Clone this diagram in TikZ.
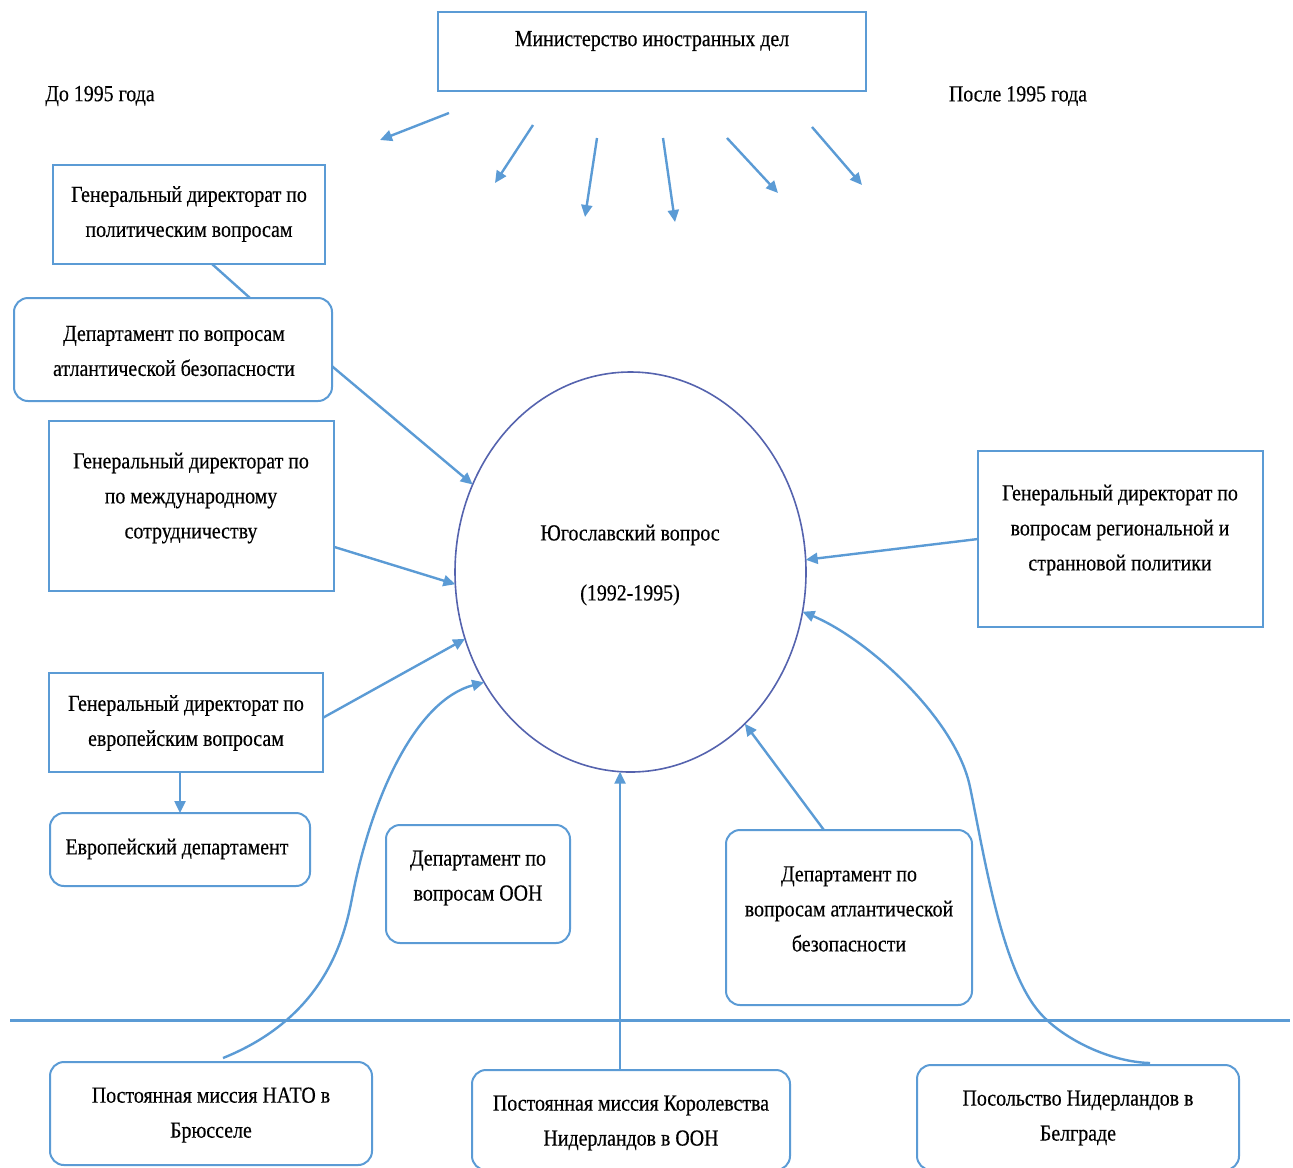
\documentclass[tikz,border=0pt]{standalone}
\usepackage{fontspec}
\setmainfont{Liberation Serif}[FakeStretch=0.865,FakeBold=0.4]
\usetikzlibrary{arrows.meta,shapes.geometric,calc}
\definecolor{bcol}{HTML}{5B9BD5}
\definecolor{ccol}{HTML}{5563AE}
\begin{document}
\begin{tikzpicture}[x=0.5pt,y=-0.5pt,
  box/.style={draw=bcol,line width=1pt,rectangle,inner sep=0pt,outer sep=0pt},
  rbox/.style={box,rounded corners=7pt},
  txt/.style={align=center,inner sep=0pt,font=\fontsize{11.5}{17.5}\selectfont},
  arr/.style={draw=bcol,line width=1.2pt,-{Triangle[length=6pt,width=5.5pt]}},
  ln/.style={draw=bcol,line width=1.2pt}]
\useasboundingbox (0,0) rectangle (1293,1167);
% boxes
\node[box,minimum width=214pt,minimum height=39.5pt] (min) at (652,51.5) {};
\node[box,minimum width=136pt,minimum height=49.5pt] (gdp) at (189,214.5) {};
\node[rbox,minimum width=159pt,minimum height=51.5pt] (atl) at (173,349.5) {};
\node[box,minimum width=142.5pt,minimum height=85pt] (gdi) at (191.5,506) {};
\node[box,minimum width=137pt,minimum height=49.5pt] (gde) at (186,722.5) {};
\node[rbox,minimum width=130pt,minimum height=36.5pt] (eud) at (180,849.5) {};
\node[rbox,minimum width=92pt,minimum height=59pt] (und) at (478,884) {};
\node[rbox,minimum width=123pt,minimum height=87.5pt] (atl2) at (849,917.5) {};
\node[box,minimum width=142.5pt,minimum height=88pt] (reg) at (1120.5,539) {};
\node[rbox,minimum width=161pt,minimum height=51.5pt] (nato) at (211,1113.5) {};
\node[rbox,minimum width=159pt,minimum height=50pt] (unm) at (631,1120) {};
\node[rbox,minimum width=161pt,minimum height=52.5pt] (bel) at (1078,1117.5) {};
\node[ellipse,draw=ccol,line width=0.8pt,minimum width=175.5pt,minimum height=200pt,inner sep=0pt,outer sep=0pt] (circ) at (630.5,572) {};
% texts
\node[txt] (tmin) at (652,41) {Министерство иностранных дел};
\node[txt] (tbefore) at (100,96) {До 1995 года};
\node[txt] (tafter) at (1018,96) {После 1995 года};
\node[txt] (tgdp) at (189,214) {Генеральный директорат по\\политическим вопросам};
\node[txt] (tatl) at (174,351) {Департамент по вопросам\\атлантической безопасности};
\node[txt] (tgdi) at (191,498) {Генеральный директорат по\\по международному\\сотрудничеству};
\node[txt] (tcirc) at (630,565) {Югославский вопрос\\[12.5pt](1992-1995)};
\node[txt] (tgde) at (186,723) {Генеральный директорат по\\европейским вопросам};
\node[txt] (teud) at (177,849) {Европейский департамент};
\node[txt] (tund) at (478,878) {Департамент по\\вопросам ООН};
\node[txt] (tatl2) at (849,909) {Департамент по\\вопросам атлантической\\безопасности};
\node[txt] (treg) at (1120,530) {Генеральный директорат по\\вопросам региональной и\\странновой политики};
\node[txt] (tnato) at (211,1115) {Постоянная миссия НАТО в\\Брюсселе};
\node[txt] (tunm) at (631,1123) {Постоянная миссия Королевства\\Нидерландов в ООН};
\node[txt] (tbel) at (1078,1118) {Посольство Нидерландов в\\Белграде};
% free top arrows
\coordinate (a1s) at (449,113); \coordinate (a1e) at (380,140);
\coordinate (a2s) at (533,125); \coordinate (a2e) at (495,183);
\coordinate (a3s) at (597,138); \coordinate (a3e) at (585,217);
\coordinate (a4s) at (663,138); \coordinate (a4e) at (675,222);
\coordinate (a5s) at (727,138); \coordinate (a5e) at (778,193);
\coordinate (a6s) at (812,127); \coordinate (a6e) at (862,185);
\foreach \i in {1,...,6} \draw[arr] (a\i s) -- (a\i e);
% connectors
\draw[ln] ($(gdp.south)+(23,0)$) -- ($(atl.north)+(77,0)$);
\draw[arr] (atl.-6.6) -- (circ.151.5);
\draw[arr] (gdi.-16.3) -- (circ.184.2);
\draw[arr] (gde.2.7) -- (circ.202.9);
\draw[arr] (eud.north |- gde.south) -- (eud.north);
\draw[arr] (atl2.106) -- (circ.307.4);
\draw[arr] (reg.west) -- (circ.4.6);
\coordinate (untip) at (circ.267.6);
\draw[arr] (untip |- unm.north) -- (untip);
\coordinate (natos) at ($(nato.north)+(12,-4)$);
\coordinate (natot) at (circ.217.9);
\draw[arr] (natos) .. controls (330,1015) and (346,930) .. (353,893)
  .. controls (373,793) and (417,700) .. (natot);
\coordinate (bels) at ($(bel.north)+(72,-2)$);
\coordinate (belt) at (circ.347.8);
\draw[arr] (bels) .. controls (1110,1062) and (1063,1039) .. (1040,1013)
  .. controls (1002,970) and (985,860) .. (970,787)
  .. controls (956,719) and (868,639) .. (belt);
% horizontal divider
\coordinate (hl) at (10,1020); \coordinate (hr) at (1290,1020);
\draw[draw=bcol,line width=1.5pt] (hl) -- (hr);
\end{tikzpicture}
\end{document}
